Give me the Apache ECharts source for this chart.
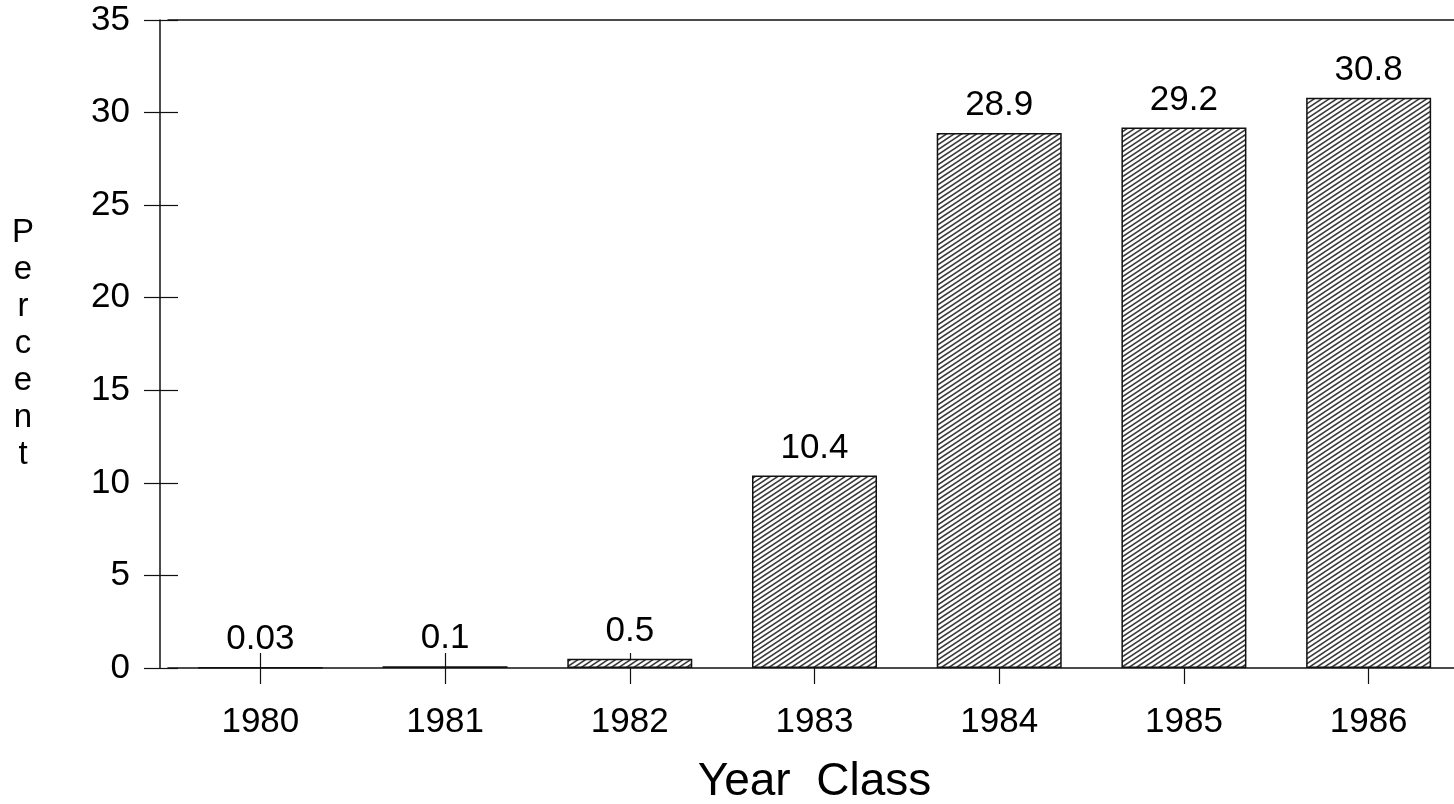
<!DOCTYPE html>
<html>
<head>
<meta charset="utf-8">
<script src="https://cdn.jsdelivr.net/npm/echarts@6/dist/echarts.min.js"></script>
<style>
  html, body { margin: 0; padding: 0; background: #fff; }
  #chart { width: 1454px; height: 804px; }
</style>
</head>
<body>
<div id="chart"></div>
<script>
const years = ['1980', '1981', '1982', '1983', '1984', '1985', '1986'];
const percent = [0.03, 0.1, 0.5, 10.4, 28.9, 29.2, 30.8];
const yTicks = [0, 5, 10, 15, 20, 25, 30, 35];

// diagonal hatch tile for the bars
function makeHatch() {
  const c = document.createElement('canvas');
  c.width = 15;
  c.height = 10;
  const ctx = c.getContext('2d');
  ctx.fillStyle = '#fff';
  ctx.fillRect(0, 0, 15, 10);
  ctx.strokeStyle = '#3a3a3a';
  ctx.lineWidth = 1.5;
  for (let k = -1; k < 6; k++) {
    const c0 = k * 5;
    ctx.beginPath();
    ctx.moveTo(-3, c0 + 2);
    ctx.lineTo(18, c0 - 12);
    ctx.stroke();
  }
  return c;
}

const font = 'Liberation Sans';
const tickStyle = { color: '#111', width: 1.2 };
const chart = echarts.init(document.getElementById('chart'));
chart.setOption({
  backgroundColor: '#fff',
  animation: false,
  grid: { left: 168, right: -7, top: 20, bottom: 136, outerBoundsMode: 'none', containLabel: false },
  xAxis: [
    {
      type: 'category',
      data: years,
      position: 'bottom',
      name: 'Year  Class',
      nameLocation: 'middle',
      nameGap: 91,
      nameTextStyle: { color: '#000', fontSize: 46, fontFamily: font },
      axisLine: { lineStyle: { color: '#111', width: 1.5 } },
      axisTick: { show: true, alignWithLabel: true, length: 16, lineStyle: tickStyle },
      axisLabel: { color: '#000', fontSize: 35, fontFamily: font, margin: 37 }
    },
    {
      // inner half of the crossing ticks
      type: 'category',
      data: years,
      position: 'bottom',
      axisLine: { show: false },
      axisTick: { show: true, inside: true, alignWithLabel: true, length: 15, lineStyle: tickStyle },
      axisLabel: { show: false }
    },
    {
      // top frame line at 35
      type: 'category',
      data: years,
      position: 'top',
      axisLine: { show: true, lineStyle: { color: '#111', width: 1.5 } },
      axisTick: { show: false },
      axisLabel: { show: false }
    }
  ],
  yAxis: [
    {
      type: 'value',
      min: yTicks[0],
      max: yTicks[yTicks.length - 1],
      interval: 5,
      offset: 8,
      name: 'P\ne\nr\nc\ne\nn\nt',
      nameLocation: 'middle',
      nameRotate: 0,
      nameGap: 137,
      nameTextStyle: {
        color: '#000', fontSize: 33, fontFamily: font,
        lineHeight: 37, align: 'center', padding: [14, 0, 0, 0]
      },
      axisLine: { show: true, lineStyle: { color: '#111', width: 1.5 } },
      axisTick: { show: true, length: 16, lineStyle: tickStyle },
      axisLabel: { color: '#000', fontSize: 35, fontFamily: font, margin: 30 },
      splitLine: { show: false }
    },
    {
      type: 'value',
      min: yTicks[0],
      max: yTicks[yTicks.length - 1],
      interval: 5,
      offset: 8,
      position: 'left',
      axisLine: { show: false },
      axisTick: { show: true, inside: true, length: 18, lineStyle: tickStyle },
      axisLabel: { show: false },
      splitLine: { show: false }
    }
  ],
  series: [
    {
      type: 'bar',
      data: percent,
      xAxisIndex: 0,
      yAxisIndex: 0,
      barWidth: 125,
      itemStyle: {
        color: { image: makeHatch(), repeat: 'repeat' },
        borderColor: '#111',
        borderWidth: 1.5
      },
      label: {
        show: true,
        position: 'top',
        distance: 10,
        color: '#000',
        fontSize: 35,
        fontFamily: font
      }
    }
  ]
});
</script>
</body>
</html>
